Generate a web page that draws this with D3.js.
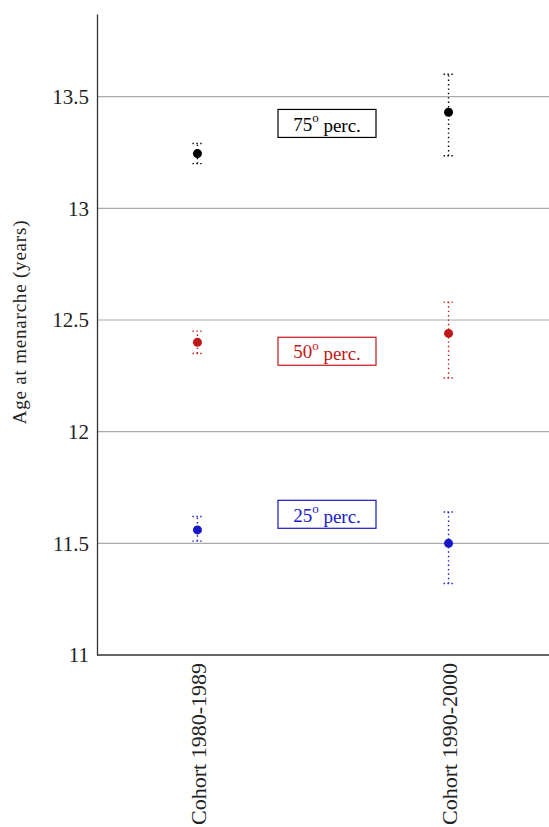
<!DOCTYPE html>
<html>
<head>
<meta charset="utf-8">
<script src="https://cdn.jsdelivr.net/npm/d3@7"></script>
<style>
  body { margin: 0; background: #fff; }
  text { font-family: "Liberation Serif", serif; }
</style>
</head>
<body>
<script>
// data
var cohorts = ['Cohort 1980-1989', 'Cohort 1990-2000']
var yTicks = [11, 11.5, 12, 12.5, 13, 13.5]
var percNames = ['75', '50', '25']
var percColors = ['#000000', '#c01818', '#1818c8']
var labelValues = [13.38, 12.36, 11.63] // where the perc. boxes sit

var mean75 = [13.245, 13.43]
var low75 = [13.20, 13.235]
var high75 = [13.29, 13.60]

var mean50 = [12.40, 12.44]
var low50 = [12.35, 12.24]
var high50 = [12.45, 12.58]

var mean25 = [11.56, 11.50]
var low25 = [11.51, 11.32]
var high25 = [11.62, 11.64]

var series = [
  { name: percNames[0], color: percColors[0], mean: mean75, low: low75, high: high75, label: labelValues[0] },
  { name: percNames[1], color: percColors[1], mean: mean50, low: low50, high: high50, label: labelValues[1] },
  { name: percNames[2], color: percColors[2], mean: mean25, low: low25, high: high25, label: labelValues[2] }
]

var W = 549, H = 827
var margin = { top: 14, right: 0, bottom: 172, left: 97 }
var width = W - margin.left - margin.right
var height = H - margin.top - margin.bottom
var serif = '"Liberation Serif", serif'

var svg = d3.select('body').append('svg')
  .attr('width', W)
  .attr('height', H)

var g = svg.append('g')
  .attr('transform', 'translate(' + margin.left + ',' + margin.top + ')')

var x = d3.scalePoint()
  .domain(cohorts)
  .range([0, width])
  .padding(0.4)

var y = d3.scaleLinear()
  .domain([11, 13.87])
  .range([height, 0])

// grid
g.append('g')
  .selectAll('line')
  .data(yTicks.slice(1))
  .enter().append('line')
  .attr('x1', 0)
  .attr('x2', width)
  .attr('y1', function (d) { return y(d) })
  .attr('y2', function (d) { return y(d) })
  .attr('stroke', '#ababab')
  .attr('stroke-width', 1.2)

// y axis
var yAxis = g.append('g')
  .call(d3.axisLeft(y).tickValues(yTicks).tickSize(0).tickPadding(8)
    .tickFormat(function (d) { return String(d) }))
yAxis.attr('font-family', serif)
yAxis.select('.domain').attr('stroke', '#333').attr('stroke-width', 1.3)
yAxis.selectAll('text')
  .attr('font-size', 21)
  .attr('fill', '#222')

// x axis
var xAxis = g.append('g')
  .attr('transform', 'translate(0,' + height + ')')
  .call(d3.axisBottom(x).tickSize(0).tickPadding(0))
xAxis.attr('font-family', serif)
xAxis.select('.domain').attr('d', 'M0,0H' + width).attr('stroke', '#333').attr('stroke-width', 1.6)
xAxis.selectAll('text')
  .attr('font-size', 22)
  .attr('fill', '#222')
  .attr('text-anchor', 'end')
  .attr('dy', null)
  .attr('y', 0)
  .attr('transform', 'translate(8,8) rotate(-90)')

// y label
svg.append('text')
  .attr('transform', 'translate(26,322) rotate(-90)')
  .attr('text-anchor', 'middle')
  .attr('font-size', 19)
  .attr('letter-spacing', 0.8)
  .attr('fill', '#222')
  .text('Age at menarche (years)')

// error bars and points
series.forEach(function (s) {
  var sg = g.append('g')
  cohorts.forEach(function (c, i) {
    var cx = x(c)
    sg.append('line')
      .attr('x1', cx).attr('x2', cx)
      .attr('y1', y(s.low[i])).attr('y2', y(s.high[i]))
      .attr('stroke', s.color)
      .attr('stroke-width', 1.4)
      .attr('stroke-dasharray', '1.4,3')
    ;[s.low[i], s.high[i]].forEach(function (v) {
      sg.append('line')
        .attr('x1', cx - 5).attr('x2', cx + 5)
        .attr('y1', y(v)).attr('y2', y(v))
        .attr('stroke', s.color)
        .attr('stroke-width', 1.4)
        .attr('stroke-dasharray', '1.4,2.5')
    })
    sg.append('circle')
      .attr('cx', cx)
      .attr('cy', y(s.mean[i]))
      .attr('r', 4.5)
      .attr('fill', s.color)
  })

  // label box
  var lx = (x(cohorts[0]) + x(cohorts[1])) / 2 + 4
  var lg = g.append('g')
    .attr('transform', 'translate(' + lx + ',' + y(s.label) + ')')
  var t = lg.append('text')
    .attr('text-anchor', 'middle')
    .attr('dy', '0.38em')
    .attr('font-size', 19)
    .attr('fill', s.color)
  t.append('tspan').text(s.name)
  t.append('tspan').attr('font-size', 13).attr('dy', '-0.65em').text('o')
  t.append('tspan').attr('dy', '0.5em').text('\u00a0perc.')
  lg.insert('rect', 'text')
    .attr('x', -49)
    .attr('y', -14)
    .attr('width', 98)
    .attr('height', 28)
    .attr('fill', '#fff')
    .attr('stroke', s.color)
    .attr('stroke-width', 1.2)
})
</script>
</body>
</html>
